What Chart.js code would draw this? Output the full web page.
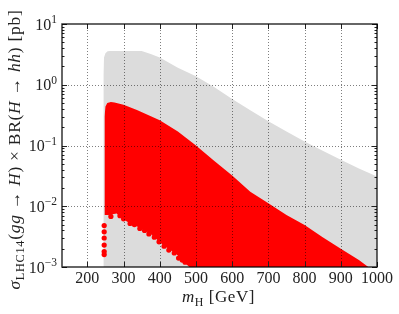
<!DOCTYPE html>
<html>
<head>
<meta charset="utf-8">
<script src="https://cdn.jsdelivr.net/npm/chart.js@4.4.1/dist/chart.umd.min.js"></script>
<style>
  html, body { margin: 0; padding: 0; background: #fff; }
  #wrap { width: 399px; height: 314px; }
</style>
</head>
<body>
<div id="wrap"><canvas id="chart" width="399" height="314"></canvas></div>
<script>
// envelope of all points (gray)
const grayMass = [244, 244.5, 246, 250, 256, 262, 350, 375, 400, 450, 500, 550, 600, 650, 700, 750, 800, 850, 900, 950, 1000];
const grayXsec = [0.001, 1.5, 2.8, 3.3, 3.55, 3.6, 3.6, 3.2, 2.8, 1.9, 1.38, 0.92, 0.58, 0.38, 0.25, 0.17, 0.116, 0.082, 0.058, 0.042, 0.031];

// allowed points (red), upper and lower edge
const redMass = [247, 247.5, 250, 255, 265, 275, 300, 337, 400, 450, 500, 550, 600, 650, 700, 750, 800, 850, 900, 950, 976];
const redUpper = [0.0072, 0.3, 0.44, 0.5, 0.52, 0.51, 0.47, 0.385, 0.26, 0.17, 0.1, 0.056, 0.032, 0.0174, 0.0112, 0.0072, 0.0049, 0.0031, 0.002, 0.0013, 0.001];
const redLowMass = [247, 258, 281, 309, 336, 373, 409, 447, 474, 482, 976];
const redLower = [0.0072, 0.0072, 0.0076, 0.0056, 0.0047, 0.0036, 0.0023, 0.0016, 0.0011, 0.001, 0.001];

// scattered points along the lower edge
const dotMass = [246.5, 246.5, 246.5, 246.5, 246.5, 246.5, 265, 290, 300, 318, 330, 345, 358, 370, 385, 398, 412, 425, 440, 452, 462, 470];
const dotXsec = [0.0048, 0.0038, 0.003, 0.0023, 0.0018, 0.0016, 0.0068, 0.007, 0.0062, 0.0052, 0.005, 0.0043, 0.004, 0.0035, 0.0031, 0.0026, 0.0022, 0.0019, 0.0017, 0.0014, 0.0013, 0.0012];

const xTicks = [200, 300, 400, 500, 600, 700, 800, 900, 1000];
const yTicks = [0.001, 0.01, 0.1, 1, 10];

const FONT = '"Liberation Serif", "DejaVu Serif", serif';

const pts = (xs, ys) => xs.map((v, i) => ({ x: v, y: ys[i] }));

// draws italic/roman/subscript runs centred on x, letter spacing stretched to `width`
function drawRuns(ctx, runs, x, y, size, width) {
    const fontOf = r => (r[1] === 'i' ? 'italic ' : '') + (r[1] === 's' ? size * 0.7 : size) + 'px ' + FONT;
    let total = 0, chars = 0;
    runs.forEach(r => { ctx.font = fontOf(r); total += ctx.measureText(r[0]).width; chars += r[0].length; });
    const gap = Math.max(0, (width - total) / chars);
    let cx = x - (total + gap * chars) / 2;
    ctx.textAlign = 'left';
    ctx.textBaseline = 'alphabetic';
    runs.forEach(r => {
        ctx.font = fontOf(r);
        for (const ch of r[0]) {
            ctx.fillText(ch, cx, r[1] === 's' ? y + size * 0.22 : y);
            cx += ctx.measureText(ch).width + gap;
        }
    });
}

const overlay = {
    id: 'overlay',
    afterDatasetsDraw(chart) {
        const { ctx, chartArea: a, scales: { x, y } } = chart;
        ctx.save();
        ctx.strokeStyle = 'rgba(0,0,0,0.5)';
        ctx.lineWidth = 1;
        ctx.setLineDash([1, 2]);
        xTicks.slice(0, -1).forEach(v => {
            const px = Math.round(x.getPixelForValue(v)) + 0.5;
            ctx.beginPath(); ctx.moveTo(px, a.top); ctx.lineTo(px, a.bottom); ctx.stroke();
        });
        yTicks.slice(1, -1).forEach(v => {
            const py = Math.round(y.getPixelForValue(v)) + 0.5;
            ctx.beginPath(); ctx.moveTo(a.left, py); ctx.lineTo(a.right, py); ctx.stroke();
        });
        ctx.restore();
    },
    afterDraw(chart) {
        const { ctx, chartArea: a, scales: { x, y } } = chart;
        ctx.save();
        ctx.strokeStyle = '#222';
        ctx.lineWidth = 1;
        const seg = (x1, y1, x2, y2) => { ctx.beginPath(); ctx.moveTo(x1, y1); ctx.lineTo(x2, y2); ctx.stroke(); };

        xTicks.forEach(v => {
            const px = Math.round(x.getPixelForValue(v)) + 0.5;
            seg(px, a.bottom, px, a.bottom - 5);
            seg(px, a.top, px, a.top + 5);
        });
        yTicks.forEach(v => {
            const py = Math.round(y.getPixelForValue(v)) + 0.5;
            seg(a.left, py, a.left + 5, py);
            seg(a.right, py, a.right - 5, py);
        });
        for (let e = -3; e < 1; e++) {
            for (let k = 2; k < 10; k++) {
                const py = Math.round(y.getPixelForValue(k * Math.pow(10, e))) + 0.5;
                seg(a.left, py, a.left + 2.5, py);
                seg(a.right, py, a.right - 2.5, py);
            }
        }

        ctx.strokeStyle = 'rgba(0,0,0,0.8)';
        ctx.lineWidth = 1.5;
        ctx.strokeRect(a.left, a.top, a.right - a.left, a.bottom - a.top);

        ctx.fillStyle = '#222';
        ctx.textBaseline = 'alphabetic';

        // x tick labels
        ctx.textAlign = 'center';
        ctx.font = '16px ' + FONT;
        xTicks.forEach(v => ctx.fillText(String(v), x.getPixelForValue(v), 283));

        // y tick labels 10^n
        yTicks.forEach(v => {
            const py = y.getPixelForValue(v);
            const e = Math.round(Math.log10(v));
            const sup = e < 0 ? '\u2212' + (-e) : String(e);
            ctx.textAlign = 'right';
            ctx.font = '11.5px ' + FONT;
            const sw = ctx.measureText(sup).width;
            ctx.fillText(sup, 57, py - 1);
            ctx.font = '16px ' + FONT;
            ctx.fillText('10', 57 - sw, py + 5.5);
        });

        // axis titles
        drawRuns(ctx, [['m', 'i'], ['H', 's'], [' [GeV]', 'r']], (a.left + a.right) / 2 - 1, 302, 17, 73);

        ctx.translate(20, 149.5);
        ctx.rotate(-Math.PI / 2);
        drawRuns(ctx, [['\u03c3', 'i'], ['LHC14', 's'], ['(', 'r'], ['gg', 'i'], [' \u2192 ', 'r'], ['H', 'i'],
            [') \u00d7 BR(', 'r'], ['H', 'i'], [' \u2192 ', 'r'], ['hh', 'i'], [') [pb]', 'r']], 0, 0, 17.5, 280);
        ctx.restore();
    }
};

new Chart(document.getElementById('chart'), {
    type: 'scatter',
    data: {
        datasets: [
            {
                data: pts(grayMass, grayXsec), showLine: true, borderWidth: 0, pointRadius: 0,
                backgroundColor: '#dcdcdc', fill: 'start', order: 4
            },
            {
                data: pts(redMass, redUpper), showLine: true, borderWidth: 0, pointRadius: 0,
                backgroundColor: '#ff0000', fill: { target: 2, above: '#ff0000', below: '#ff0000' }, order: 3
            },
            {
                data: pts(redLowMass, redLower), showLine: true, borderWidth: 0, pointRadius: 0,
                fill: false, order: 2
            },
            {
                data: pts(dotMass, dotXsec), pointRadius: 2.6, pointBackgroundColor: '#ff0000',
                pointBorderWidth: 0, order: 1
            }
        ]
    },
    options: {
        responsive: false,
        animation: false,
        events: [],
        layout: { padding: { top: 24, right: 22, left: 0, bottom: 0 } },
        plugins: { legend: { display: false }, tooltip: { enabled: false } },
        scales: {
            x: {
                type: 'linear', min: 130, max: 1000,
                afterBuildTicks: s => { s.ticks = xTicks.map(v => ({ value: v })); },
                afterFit: s => { s.height = 47; s.paddingLeft = 0; s.paddingRight = 0; },
                grid: { display: false },
                border: { display: false },
                ticks: { display: false }
            },
            y: {
                type: 'logarithmic', min: 0.001, max: 10,
                afterBuildTicks: s => { s.ticks = yTicks.map(v => ({ value: v })); },
                afterFit: s => { s.width = 62; },
                grid: { display: false },
                border: { display: false },
                ticks: { display: false }
            }
        }
    },
    plugins: [overlay]
});
</script>
</body>
</html>
